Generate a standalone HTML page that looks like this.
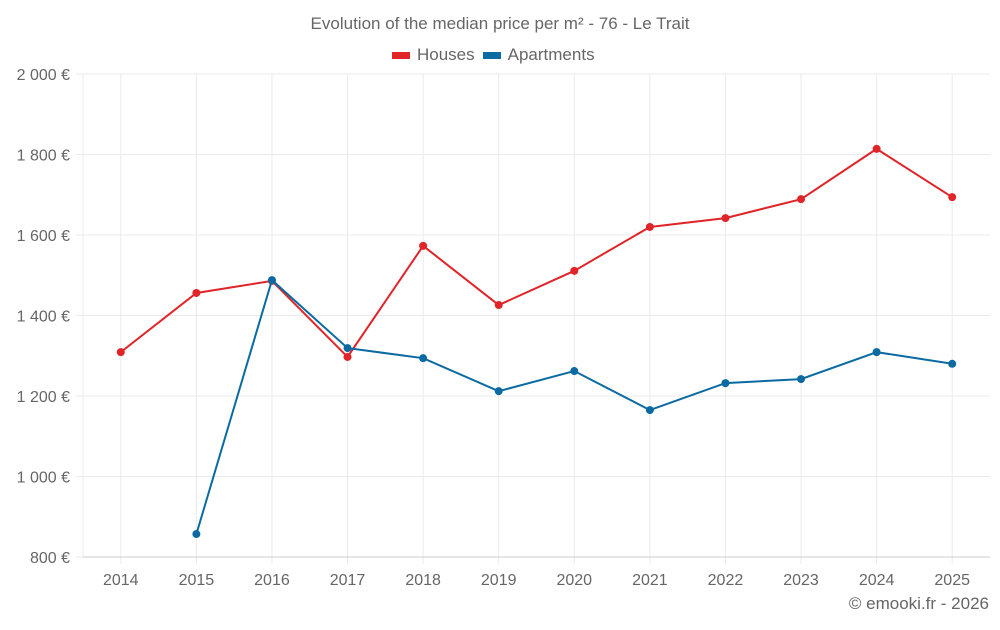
<!DOCTYPE html>
<html><head><meta charset="utf-8"><style>
body{margin:0;background:#fff;font-family:"Liberation Sans",sans-serif}
svg text{font-family:"Liberation Sans",sans-serif;fill:#666}
</style></head><body>
<svg id="c" width="1000" height="625"></svg>
<script>
const years=['2014','2015','2016','2017','2018','2019','2020','2021','2022','2023','2024','2025'];
const houses=[1309,1456,1486,1297,1573,1426,1511,1620,1642,1689,1814,1694];
const apartments=[null,857,1488,1319,1294,1212,1262,1165,1232,1242,1309,1280];
const yTicks=[800,1000,1200,1400,1600,1800,2000];
const yTickLabels=['800 €','1 000 €','1 200 €','1 400 €','1 600 €','1 800 €','2 000 €'];
const svg=document.getElementById('c');
const NS='http://www.w3.org/2000/svg';
const L=83,R=990,T=74,B=557,yMin=800,yMax=2000;
const band=(R-L)/years.length;
function x(i){return L+band*(i+0.5);}
function y(v){return B-(v-yMin)/(yMax-yMin)*(B-T);}
function mk(tag,attrs,parent){const e=document.createElementNS(NS,tag);for(const k in attrs)e.setAttribute(k,attrs[k]);(parent||svg).appendChild(e);return e;}
const grid=mk('g',{});


yTicks.forEach((v,i)=>{
  mk('line',{x1:76,x2:R,y1:y(v),y2:y(v),stroke:'#ebebeb','stroke-width':1},grid);
  const t=mk('text',{x:70,y:y(v)+6,'text-anchor':'end','font-size':16});
  t.textContent=yTickLabels[i];
  
  
});
mk('line',{x1:L,x2:L,y1:T,y2:B,stroke:'#ebebeb'},grid);
years.forEach((yr,i)=>{
  mk('line',{x1:x(i),x2:x(i),y1:T,y2:B+7,stroke:'#ebebeb'},grid);
  const t=mk('text',{x:x(i),y:585,'text-anchor':'middle','font-size':16});
  t.textContent=yr;
  
  
});
mk('line',{x1:L,x2:R,y1:B,y2:B,stroke:'#ccc'},grid);
function series(vals,color,name){
  const g=mk('g',{});
  
  
  const pts=[];vals.forEach((v,i)=>{if(v!=null)pts.push(x(i)+','+y(v));});
  mk('polyline',{points:pts.join(' '),fill:'none',stroke:color,'stroke-width':2},g);
  vals.forEach((v,i)=>{if(v==null)return;
    const c=mk('circle',{cx:x(i),cy:y(v),r:4,fill:color},g);
    
    
  });
}
series(houses,'#e02428','houses-series');
series(apartments,'#0a6aa1','apartments-series');
</script>
<div style="position:absolute;left:0;top:14px;width:1000px;text-align:center;font-size:17px;color:#666">Evolution of the median price per m² - 76 - Le Trait</div>
<div style="position:absolute;left:392px;top:45px;font-size:17px;color:#666;display:flex;align-items:center">
<span style="display:flex;align-items:center"><span style="display:inline-block;width:18px;height:7px;background:#e02428;margin-right:7px"></span>Houses</span>
<span style="display:flex;align-items:center;margin-left:8px"><span style="display:inline-block;width:18px;height:7px;background:#0a6aa1;margin-right:7px"></span>Apartments</span>
</div>
<div style="position:absolute;right:11px;top:594px;font-size:17px;color:#666">© emooki.fr - 2026</div>
</body></html>
